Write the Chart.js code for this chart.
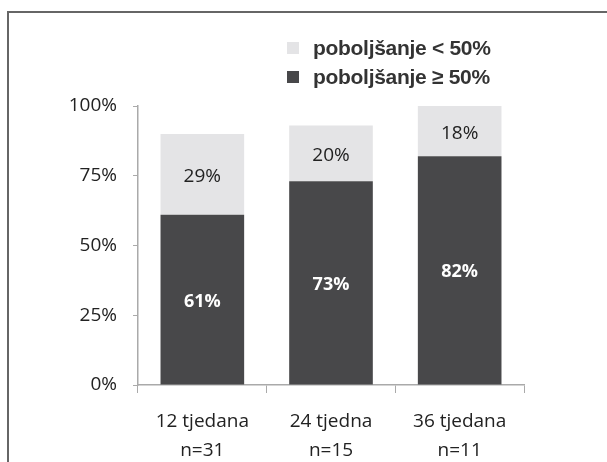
<!DOCTYPE html>
<html>
<head>
<meta charset="utf-8">
<script src="https://cdn.jsdelivr.net/npm/chart.js@4/dist/chart.umd.min.js"></script>
<style>
  html, body { margin: 0; padding: 0; background: #fff; overflow: hidden; }
  #wrap { position: relative; width: 607px; height: 462px; }
  #frame {
    position: absolute; left: 7px; top: 11px; width: 640px; height: 500px;
    border-left: 2px solid #666; border-top: 2px solid #666;
  }
  #chart { position: absolute; left: 0; top: 0; }
  #legend { position: absolute; left: 287px; top: 33px; font-family: "Liberation Sans", Arial, sans-serif; }
  .item { display: flex; align-items: center; height: 29px; font-weight: bold; font-size: 21px; letter-spacing: -0.3px; color: #333; }
  .box { width: 12px; height: 12px; margin-right: 14px; }
</style>
</head>
<body>
<div id="wrap">
  <div id="frame"></div>
  <canvas id="chart" width="607" height="462"></canvas>
  <div id="legend"></div>
</div>
<script>
const categories = [['12 tjedana', 'n=31'], ['24 tjedna', 'n=15'], ['36 tjedana', 'n=11']];
const atLeast50 = [61, 73, 82];
const below50 = [29, 20, 18];
const yTicks = [0, 25, 50, 75, 100];

const darkColor = '#48484a';
const lightColor = '#e4e4e6';

// values written in the middle of each segment
const segmentLabels = {
  id: 'segmentLabels',
  afterDatasetsDraw(chart) {
    const ctx = chart.ctx;
    chart.data.datasets.forEach((ds, i) => {
      const meta = chart.getDatasetMeta(i);
      meta.data.forEach((bar, j) => {
        const p = bar.getProps(['x', 'y', 'base'], true);
        ctx.save();
        ctx.font = ds.labelBold ? 'bold 18px "Open Sans", sans-serif' : '19px "Open Sans", sans-serif';
        ctx.fillStyle = ds.labelColor;
        ctx.textAlign = 'center';
        ctx.textBaseline = 'middle';
        ctx.fillText(ds.data[j] + '%', p.x, (p.y + p.base) / 2 + 2);
        ctx.restore();
      });
    });
  }
};

const chart = new Chart(document.getElementById('chart'), {
  type: 'bar',
  data: {
    labels: categories,
    datasets: [
      {
        label: 'poboljšanje \u2265 50%',
        data: atLeast50,
        backgroundColor: darkColor,
        labelColor: '#ffffff',
        labelBold: true,
      },
      {
        label: 'poboljšanje < 50%',
        data: below50,
        backgroundColor: lightColor,
        labelColor: '#222222',
        labelBold: false,
      },
    ],
  },
  options: {
    responsive: false,
    animation: false,
    layout: { padding: { left: 0, right: 83, top: 106, bottom: 0 } },
    datasets: { bar: { categoryPercentage: 1, barPercentage: 0.65 } },
    plugins: {
      legend: { display: false },
      tooltip: { enabled: false },
    },
    scales: {
      x: {
        stacked: true,
        afterFit: (scale) => { scale.height = 77; },
        grid: { drawOnChartArea: false, tickLength: 8, color: '#aaa', offset: true },
        border: { color: '#aaa', width: 1.5 },
        ticks: {
          color: '#222',
          padding: 14,
          maxRotation: 0,
          font: { family: '"Open Sans", sans-serif', size: 19, lineHeight: 1.53 },
        },
      },
      y: {
        stacked: true,
        min: 0,
        max: 100,
        afterFit: (scale) => { scale.width = 138; },
        afterBuildTicks: (scale) => { scale.ticks = yTicks.map((v) => ({ value: v })); },
        grid: { drawOnChartArea: false, tickLength: 5, color: '#aaa' },
        border: { color: '#aaa', width: 1.5 },
        ticks: {
          color: '#222',
          padding: 16,
          callback: (v) => v + '%',
          font: { family: '"Open Sans", sans-serif', size: 19 },
        },
      },
    },
  },
  plugins: [segmentLabels],
});

// legend, light entry on top
const legend = document.getElementById('legend');
chart.data.datasets.slice().reverse().forEach((ds) => {
  const item = document.createElement('div');
  item.className = 'item';
  const box = document.createElement('span');
  box.className = 'box';
  box.style.background = ds.backgroundColor;
  const text = document.createElement('span');
  text.textContent = ds.label;
  item.appendChild(box);
  item.appendChild(text);
  legend.appendChild(item);
});
</script>
</body>
</html>
